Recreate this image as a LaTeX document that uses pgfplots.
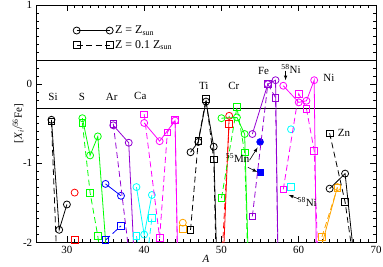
\documentclass[border=0pt]{standalone}
\usepackage{fontspec}
\setmainfont{Liberation Serif}
\usepackage{pgfplots}
\pgfplotsset{compat=1.18}
\definecolor{gviolet}{RGB}{148,0,211}
\definecolor{ggreen}{RGB}{0,255,0}
\definecolor{gorange}{RGB}{255,165,0}
\definecolor{gcyan}{RGB}{0,255,255}
\definecolor{gmag}{RGB}{255,0,255}
\definecolor{gblue}{RGB}{0,0,255}
\definecolor{gred}{RGB}{255,0,0}
\pgfplotsset{
  sol/.style={color=#1, solid, mark=o, line width=0.8pt, mark size=3.5bp, mark options={solid}},
  das/.style={color=#1, dash pattern=on 6bp off 3.5bp, mark=square, line width=0.8pt, mark size=3.3bp, mark options={solid}},
}
\begin{document}
\fontsize{11}{13}\selectfont
\begin{tikzpicture}
\begin{axis}[
  scale only axis, width=340bp, height=237.5bp,
  xmin=26, xmax=70, ymin=-2, ymax=1,
  xtick={30,40,50,60,70}, minor x tick num=9,
  ytick={-2,-1,0,1}, minor y tick num=9,
  tick align=inside,
  major tick length=6bp, minor tick length=3.5bp,
  every tick/.style={black, line width=0.6pt},
  axis line style={line width=0.8pt},
  /pgf/number format/assume math mode=true,
  tick label style={font=\fontsize{11}{13}\selectfont},
  xlabel={\textit{A}}, xlabel style={yshift=6bp},
  ylabel={[\textit{X}\textsubscript{\textit{i}}/\textsuperscript{56}Fe]}, ylabel style={yshift=-8bp},
  legend style={at={(rel axis cs:0.1,0.93)}, anchor=north west, draw=none, fill=none,
    font=\fontsize{12}{14}\selectfont, row sep=1bp},
  legend cell align=left,
  legend image code/.code={\draw[#1, mark repeat=1, mark phase=1] plot coordinates {(0bp,0bp) (33bp,0bp)};},
  clip mode=individual,
]
\addlegendimage{sol=black}
\addlegendentry{Z = Z\textsubscript{sun}}
\addlegendimage{das=black}
\addlegendentry{Z = 0.1 Z\textsubscript{sun}}

\draw[line width=0.8pt] (axis cs:26,0.3) -- (axis cs:70,0.3);
\draw[line width=0.8pt] (axis cs:26,-0.3) -- (axis cs:70,-0.3);

% Si
\addplot[sol=black, forget plot] coordinates {(28,-0.45) (29,-1.84) (30,-1.52)};
\addplot[das=black, forget plot] coordinates {(28,-0.47) (29,-3.0) (30,-3.2)};
% P
\addplot[sol=gred, only marks, forget plot] coordinates {(31,-1.37)};
\addplot[das=gred, only marks, forget plot] coordinates {(31,-1.97)};
% S
\addplot[sol=ggreen, forget plot] coordinates {(32,-0.43) (33,-0.90) (34,-0.66) (36,-3.3)};
\addplot[das=ggreen, forget plot] coordinates {(32,-0.49) (33,-1.37) (34,-1.92) (36,-3.5)};
% Cl
\addplot[sol=gblue, forget plot] coordinates {(35,-1.26) (37,-1.41)};
\addplot[das=gblue, forget plot] coordinates {(35,-1.97) (37,-1.79)};
% Ar
\addplot[sol=gviolet, forget plot] coordinates {(36,-0.52) (38,-0.74) (40,-4.9)};
\addplot[das=gviolet, forget plot] coordinates {(36,-0.50) (38,-2.1) (40,-3.0)};
% K
\addplot[sol=gcyan, forget plot] coordinates {(39,-1.30) (40,-1.90) (41,-1.40)};
\addplot[das=gcyan, forget plot] coordinates {(39,-1.92) (40,-2.5) (41,-1.69)};
% Ca
\addplot[sol=gmag, forget plot] coordinates {(40,-0.49) (42,-0.72) (44,-0.46) (46,-11)};
\addplot[das=gmag, forget plot] coordinates {(40,-0.38) (42,-1.94) (43,-0.61) (44,-0.45) (46,-12)};
% Sc
\addplot[sol=gorange, only marks, forget plot] coordinates {(45,-1.75)};
\addplot[das=gorange, only marks, forget plot] coordinates {(45,-1.83)};
% Ti
\addplot[sol=black, forget plot] coordinates {(46,-0.86) (47,-0.73) (48,-0.22) (49,-0.79) (50,-4.5)};
\addplot[das=black, forget plot] coordinates {(46,-1.84) (47,-0.72) (48,-0.19) (49,-0.95) (50,-5)};
% V
\addplot[sol=gred, forget plot] coordinates {(50,-2.8) (51,-0.40)};
\addplot[das=gred, forget plot] coordinates {(50,-2.3) (51,-0.50)};
% Cr
\addplot[sol=ggreen, forget plot] coordinates {(50,-0.43) (52,-0.42) (53,-0.63) (54,-4.0)};
\addplot[das=ggreen, forget plot] coordinates {(50,-1.44) (52,-0.29) (53,-0.86) (54,-4.2)};
% Mn
\addplot[color=gblue, only marks, mark=*, mark size=3.5bp, forget plot] coordinates {(55,-0.73)};
\addplot[color=gblue, only marks, mark=square*, mark size=3.3bp, forget plot] coordinates {(55,-1.11)};
% Fe
\addplot[sol=gviolet, forget plot] coordinates {(54,-0.63) (56,0) (57,0.05) (58,-7)};
\addplot[das=gviolet, forget plot] coordinates {(54,-1.67) (56,0) (57,-0.17) (58,-7)};
% Co
\addplot[sol=gcyan, only marks, forget plot] coordinates {(59,-0.57)};
\addplot[das=gcyan, only marks, forget plot] coordinates {(59,-1.30)};
% Ni
\addplot[sol=gmag, forget plot] coordinates {(58,-0.02) (60,-0.23) (61,-0.21) (62,0.05) (64,-16)};
\addplot[das=gmag, forget plot] coordinates {(58,-1.33) (60,-0.12) (61,-0.31) (62,-0.84) (64,-6.6)};
% Cu
\addplot[sol=gorange, forget plot] coordinates {(63,-2.03) (65,-1.30)};
\addplot[das=gorange, forget plot] coordinates {(63,-1.93) (65,-1.31)};
% Zn
\addplot[sol=black, forget plot] coordinates {(64,-1.32) (66,-1.13) (67,-2.05) (68,-3)};
\addplot[das=black, forget plot] coordinates {(64,-0.62) (66,-1.49) (67,-2.17) (68,-3)};

% element labels
\node at (axis cs:28.2,-0.16) {Si};
\node at (axis cs:31.95,-0.16) {S};
\node at (axis cs:35.8,-0.16) {Ar};
\node at (axis cs:39.5,-0.15) {Ca};
\node at (axis cs:47.7,-0.02) {Ti};
\node at (axis cs:51.6,-0.02) {Cr};
\node at (axis cs:55.45,0.17) {Fe};
\node at (axis cs:63.9,0.08) {Ni};
\node at (axis cs:65.85,-0.61) {Zn};
\node at (axis cs:52.1,-0.93) {\textsuperscript{55}Mn};
\node at (axis cs:59.0,0.19) {\textsuperscript{58}Ni};
\node at (axis cs:61.1,-1.49) {\textsuperscript{58}Ni};
\draw[-latex, line width=0.6pt] (axis cs:58.3,0.17) -- (axis cs:58.3,0.05);
\draw[-latex, line width=0.6pt] (axis cs:53.64,-0.96) -- (axis cs:54.68,-0.80);
\draw[-latex, line width=0.6pt] (axis cs:53.42,-1.05) -- (axis cs:54.64,-1.11);
\draw[-latex, line width=0.6pt] (axis cs:60.0,-1.45) -- (axis cs:58.7,-1.40);
\end{axis}
\pgfresetboundingbox
\useasboundingbox ([xshift=-36bp,yshift=-24.5bp]current axis.south west) rectangle ([xshift=7bp,yshift=5bp]current axis.north east);
\end{tikzpicture}
\end{document}
